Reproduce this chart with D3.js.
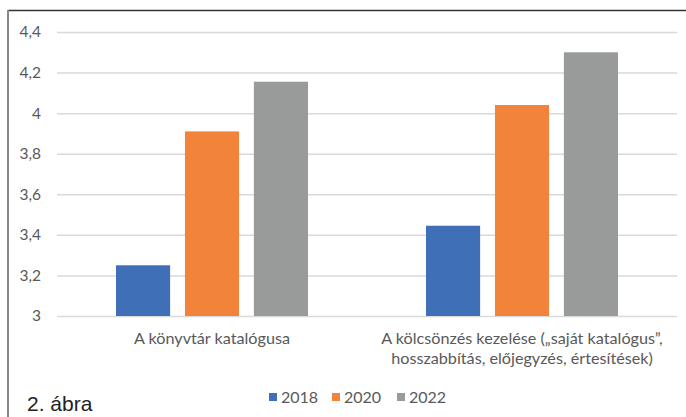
<!DOCTYPE html>
<html><head><meta charset="utf-8">
<script src="https://cdn.jsdelivr.net/npm/d3@7"></script>
<style>body{margin:0;background:#fff;}svg{display:block;}</style>
</head><body><svg id="c" width="686" height="417"></svg>
<script>
const categories = [["A könyvtár katalógusa"], ["A kölcsönzés kezelése („saját katalógus”,", "hosszabbítás, előjegyzés, értesítések)"]];
const seriesNames = ["2018", "2020", "2022"];
const values2018 = [3.25, 3.445];
const values2020 = [3.91, 4.04];
const values2022 = [4.155, 4.30];
const yTicks = [3, 3.2, 3.4, 3.6, 3.8, 4, 4.2, 4.4];
const colors = ["#3f6fb7", "#f2833b", "#999b9b"];
const series = [values2018, values2020, values2022];

const svg = d3.select("#c");
const font = "Lato, 'Open Sans', sans-serif";

// frame
svg.append("line").attr("x1", 8).attr("x2", 686).attr("y1", 10.5).attr("y2", 10.5).attr("stroke", "#333").attr("stroke-width", 1.5);
svg.append("line").attr("x1", 8).attr("x2", 8).attr("y1", 10).attr("y2", 417).attr("stroke", "#888").attr("stroke-width", 2);

const y = d3.scaleLinear().domain([3, 4.4]).range([316, 32]);
const x0 = d3.scaleBand().domain(d3.range(categories.length)).range([57, 677]).paddingInner(0).paddingOuter(0);
const x1 = d3.scaleBand().domain(d3.range(seriesNames.length)).range([59, 251]).paddingInner(0.215).paddingOuter(0);

// grid
const yAxis = d3.axisLeft(y).tickValues(yTicks).tickSize(-(677 - 57)).tickFormat(d => d3.format(".1~f")(d).replace(".", ","));
const ga = svg.append("g").attr("transform", "translate(57,0)").call(yAxis);
ga.select(".domain").remove();
ga.selectAll(".tick line").attr("stroke", "#d9d9d9").attr("stroke-width", 1.5);
ga.selectAll(".tick text").attr("x", -16).attr("fill", "#595959").attr("font-family", font).attr("font-size", 15.5);

// bars
categories.forEach((c, i) => {
  series.forEach((s, j) => {
    svg.append("rect")
      .attr("x", x0(i) + x1(j))
      .attr("width", x1.bandwidth())
      .attr("y", y(s[i]))
      .attr("height", y(3) - y(s[i]))
      .attr("fill", colors[j]);
  });
  const t = svg.append("text").attr("text-anchor", "middle").attr("fill", "#595959")
    .attr("font-family", font).attr("font-size", 16.2);
  c.forEach((line, k) => {
    t.append("tspan").attr("x", x0(i) + x0.bandwidth() / 2).attr("y", 344 + k * 20).text(line);
  });
});

// legend
const legX = [269, 332, 397];
seriesNames.forEach((n, j) => {
  svg.append("rect").attr("x", legX[j]).attr("y", 393).attr("width", 8).attr("height", 8).attr("fill", colors[j]);
  svg.append("text").attr("x", legX[j] + 12).attr("y", 402.5).attr("fill", "#595959")
    .attr("font-family", font).attr("font-size", 16).text(n);
});

// caption
svg.append("text").attr("x", 27).attr("y", 411).attr("fill", "#222")
  .attr("font-family", "'Liberation Sans', Arial, sans-serif").attr("font-size", 21).text("2. ábra");
</script></body></html>
